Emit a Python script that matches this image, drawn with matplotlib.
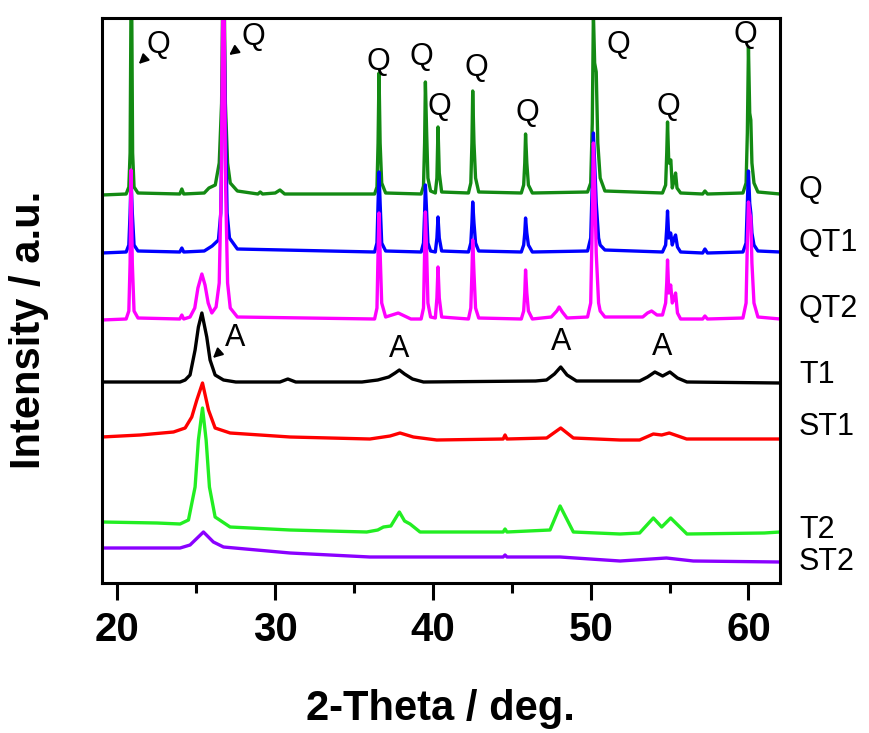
import matplotlib
matplotlib.use("Agg")
import matplotlib.pyplot as plt
from matplotlib.ticker import MultipleLocator

plt.rcParams['font.family'] = ['Liberation Sans', 'DejaVu Sans']

# XRD patterns, (2-theta, intensity a.u.) points
q_pts = [(19.0, 388), (20.55, 389), (20.72, 396), (20.8, 430), (20.88, 640), (20.96, 430), (21.05, 396), (21.3, 390),
         (23.95, 389), (24.08, 394), (24.2, 389), (25.5, 390), (25.8, 395), (26.2, 398), (26.45, 420), (26.6, 480),
         (26.72, 660), (26.84, 480), (26.98, 420), (27.15, 400), (27.6, 392), (28.9, 389), (29.05, 391), (29.2, 389),
         (30.0, 390), (30.3, 393), (30.6, 389), (36.3, 389), (36.45, 396), (36.52, 440), (36.58, 510), (36.65, 440),
         (36.75, 400), (37.0, 390), (39.25, 389), (39.4, 397), (39.47, 440), (39.52, 501), (39.6, 450), (39.68, 405),
         (39.85, 392), (40.15, 390), (40.25, 405), (40.32, 456), (40.4, 410), (40.55, 391), (42.25, 390), (42.4, 400),
         (42.47, 440), (42.52, 492), (42.6, 440), (42.7, 405), (42.9, 391), (45.6, 390), (45.75, 398), (45.82, 420),
         (45.87, 449), (45.95, 420), (46.05, 398), (46.3, 390), (49.8, 391), (50.0, 400), (50.1, 460), (50.17, 570),
         (50.25, 520), (50.35, 511), (50.45, 440), (50.6, 405), (50.9, 392), (54.55, 390), (54.75, 398), (54.82, 430),
         (54.87, 461), (54.95, 420), (55.08, 423), (55.17, 395), (55.28, 402), (55.38, 410), (55.47, 395), (55.7, 390),
         (57.1, 389), (57.24, 392), (57.4, 389), (59.65, 390), (59.85, 400), (59.93, 450), (60.0, 536), (60.08, 470),
         (60.15, 463), (60.22, 420), (60.35, 400), (60.6, 391), (62.0, 389)]

qt1_pts = [(19.0, 330), (20.55, 331), (20.72, 338), (20.8, 370), (20.86, 405), (20.94, 370), (21.05, 338), (21.3, 332),
           (23.95, 331), (24.08, 335), (24.2, 331), (25.5, 332), (26.0, 337), (26.4, 343), (26.55, 370), (26.65, 480),
           (26.72, 620), (26.82, 480), (26.95, 370), (27.1, 345), (27.6, 334), (36.3, 331), (36.45, 340), (36.52, 380),
           (36.58, 411), (36.65, 380), (36.75, 340), (37.0, 332), (39.25, 331), (39.4, 340), (39.47, 370), (39.52, 398),
           (39.6, 370), (39.68, 340), (39.85, 332), (40.15, 331), (40.25, 345), (40.32, 366), (40.4, 345), (40.55, 332),
           (42.25, 331), (42.4, 340), (42.47, 360), (42.52, 381), (42.6, 360), (42.7, 340), (42.9, 332), (45.6, 331),
           (45.75, 338), (45.82, 350), (45.87, 365), (45.95, 350), (46.05, 338), (46.3, 331), (49.8, 332), (50.0, 345),
           (50.1, 400), (50.17, 450), (50.25, 420), (50.35, 380), (50.5, 345), (50.6, 338), (50.9, 333), (54.55, 331),
           (54.75, 338), (54.82, 355), (54.87, 372), (54.95, 345), (55.07, 350), (55.17, 338), (55.3, 345), (55.38, 348),
           (55.5, 336), (55.7, 331), (57.1, 330), (57.24, 334), (57.4, 330), (59.65, 331), (59.85, 340), (59.93, 380),
           (60.0, 412), (60.08, 380), (60.15, 370), (60.22, 350), (60.35, 338), (60.6, 332), (62.0, 331)]

qt2_pts = [(19.0, 263), (20.55, 264), (20.72, 272), (20.8, 320), (20.86, 413), (20.94, 320), (21.05, 272), (21.3, 265),
           (23.95, 264), (24.08, 268), (24.2, 264), (24.6, 266), (24.9, 275), (25.1, 295), (25.35, 309), (25.55, 298),
           (25.75, 280), (25.98, 270), (26.25, 276), (26.45, 300), (26.58, 400), (26.72, 660), (26.85, 400), (26.98, 300),
           (27.15, 275), (27.6, 266), (36.3, 264), (36.45, 275), (36.52, 330), (36.58, 370), (36.65, 330), (36.75, 280),
           (37.0, 266), (37.4, 268), (37.8, 270), (38.2, 267), (38.6, 264), (39.25, 264), (39.4, 275), (39.47, 330),
           (39.52, 371), (39.6, 330), (39.68, 280), (39.85, 266), (40.15, 265), (40.25, 285), (40.32, 316), (40.4, 285),
           (40.55, 266), (42.25, 264), (42.4, 275), (42.47, 310), (42.52, 343), (42.6, 310), (42.7, 275), (42.9, 265),
           (45.6, 264), (45.75, 272), (45.82, 290), (45.87, 313), (45.95, 290), (46.05, 272), (46.3, 264), (47.5, 266),
           (47.85, 272), (48.0, 276), (48.2, 271), (48.5, 265), (49.8, 266), (50.0, 280), (50.1, 360), (50.17, 440),
           (50.25, 400), (50.35, 330), (50.5, 280), (50.6, 272), (50.9, 266), (53.3, 266), (53.6, 270), (53.86, 272),
           (54.2, 268), (54.55, 268), (54.75, 280), (54.82, 300), (54.87, 323), (54.95, 290), (55.07, 298), (55.17, 280),
           (55.3, 285), (55.38, 290), (55.5, 270), (55.7, 264), (57.1, 264), (57.24, 267), (57.4, 264), (59.65, 265),
           (59.85, 280), (59.93, 340), (60.0, 381), (60.08, 370), (60.15, 365), (60.22, 320), (60.35, 280), (60.6, 266),
           (62.0, 264)]

t1_pts = [(19.0, 201), (23.97, 201), (24.29, 203), (24.6, 208), (24.92, 233), (25.13, 256), (25.35, 270), (25.66, 246),
          (25.87, 223), (26.19, 208), (26.72, 203), (27.5, 201), (30.3, 201), (30.8, 204), (31.3, 201), (35.5, 201),
          (36.5, 203), (37.2, 206), (37.6, 210), (37.87, 213), (38.2, 209), (38.7, 204), (39.4, 201), (46.5, 202),
          (47.2, 203), (47.7, 209), (48.1, 216), (48.5, 208), (49.1, 202), (53.1, 202), (53.6, 206), (54.07, 211),
          (54.56, 207), (55.02, 211), (55.5, 205), (56.1, 201), (62.0, 200)]

st1_pts = [(19.0, 146), (21.44, 148), (23.55, 151), (24.29, 155), (24.71, 166), (25.03, 183), (25.39, 200),
           (25.77, 173), (26.19, 155), (27.14, 150), (30.94, 146), (36.0, 144), (37.28, 147), (37.91, 150),
           (38.76, 146), (40.24, 143), (44.45, 144), (44.57, 148), (44.69, 144), (47.21, 145), (48.1, 155),
           (48.9, 145), (51.86, 143), (53.1, 143), (53.97, 149), (54.5, 148), (54.98, 150), (56.08, 144), (62.0, 144)]

t2_pts = [(19.0, 61), (22.5, 60), (23.97, 59), (24.5, 63), (24.92, 96), (25.13, 143), (25.39, 175), (25.62, 143),
          (25.83, 96), (26.19, 66), (27.14, 56), (30.94, 53), (35.8, 51), (36.5, 53), (36.86, 56), (37.33, 57),
          (37.87, 71), (38.2, 62), (38.55, 59), (39.18, 51), (44.45, 51), (44.57, 54), (44.69, 51), (47.42, 53),
          (48.06, 77), (48.9, 51), (51.86, 49), (53.1, 50), (53.97, 65), (54.5, 56), (55.07, 65), (56.1, 49),
          (61.0, 50), (62.0, 51)]

st2_pts = [(19.0, 35), (23.97, 35), (24.6, 38), (25.45, 51), (26.08, 41), (26.72, 36), (30.94, 30), (36.0, 26),
           (37.17, 26), (44.45, 26), (44.57, 28), (44.69, 26), (48.06, 26), (51.86, 22), (54.8, 25), (56.5, 22),
           (62.0, 21)]

samples = ["Q", "QT1", "QT2", "T1", "ST1", "T2", "ST2"]
curves = [q_pts, qt1_pts, qt2_pts, t1_pts, st1_pts, t2_pts, st2_pts]
colors = ["#138a13", "#0000ff", "#ff00ff", "#000000", "#ff0000", "#22ee22", "#8a00ff"]
label_heights = [393, 340, 274, 208, 156, 53, 21]

# peak markers: quartz (Q) and anatase (A)
q_marks = [(36.54, 521), (39.29, 526), (40.41, 476), (42.73, 515), (45.98, 470), (51.75, 538), (54.92, 476), (59.78, 548)]
a_marks = [(37.87, 234), (48.14, 241), (54.5, 236)]

fig = plt.figure(figsize=(8.7, 7.33), dpi=100)
ax = fig.add_axes([101.7 / 870, 150 / 733, (780 - 101.7) / 870, 565 / 733])

for pts, c in zip(curves, colors):
    xs = [p[0] for p in pts]
    ys = [p[1] for p in pts]
    ax.plot(xs, ys, color=c, lw=2.4, solid_joinstyle='round')

ax.set_xlim(19, 62)
ax.set_ylim(0, 565)

for name, h in zip(samples, label_heights):
    ax.text(63.2, h, name, fontsize=22, ha='left', va='center', clip_on=False)

for x, y in q_marks:
    ax.text(x, y, "Q", fontsize=22, ha='center', va='center')
for x, y in a_marks:
    ax.text(x, y, "A", fontsize=22, ha='center', va='center')

# labels with small arrows
arrow = dict(arrowstyle='-|>', color='black', lw=1.4, mutation_scale=14, shrinkA=2, shrinkB=0)
ax.annotate("Q", xy=(21.35, 519), xytext=(22.6, 538), fontsize=22, ha='center', va='center', arrowprops=arrow)
ax.annotate("Q", xy=(27.08, 528), xytext=(28.62, 546), fontsize=22, ha='center', va='center', arrowprops=arrow)
ax.annotate("A", xy=(26.05, 225), xytext=(27.46, 245), fontsize=22, ha='center', va='center', arrowprops=arrow)

ax.set_yticks([])
ax.set_xticks([20, 30, 40, 50, 60])
ax.xaxis.set_minor_locator(MultipleLocator(5))
ax.tick_params(axis='x', which='major', direction='out', length=12, width=2.2, pad=8, labelsize=29)
ax.tick_params(axis='x', which='minor', direction='out', length=7, width=2.2)
for lbl in ax.get_xticklabels():
    lbl.set_fontweight('bold')
for sp in ax.spines.values():
    sp.set_linewidth(2.2)

fig.text(440 / 870, 13 / 733, "2-Theta / deg.", fontsize=30, fontweight='bold', ha='center', va='baseline')
fig.text(29 / 870, 1 - 330 / 733, "Intensity / a.u.", fontsize=30, fontweight='bold', rotation=90,
         ha='center', va='center')

fig.savefig("out.png", dpi=100)
